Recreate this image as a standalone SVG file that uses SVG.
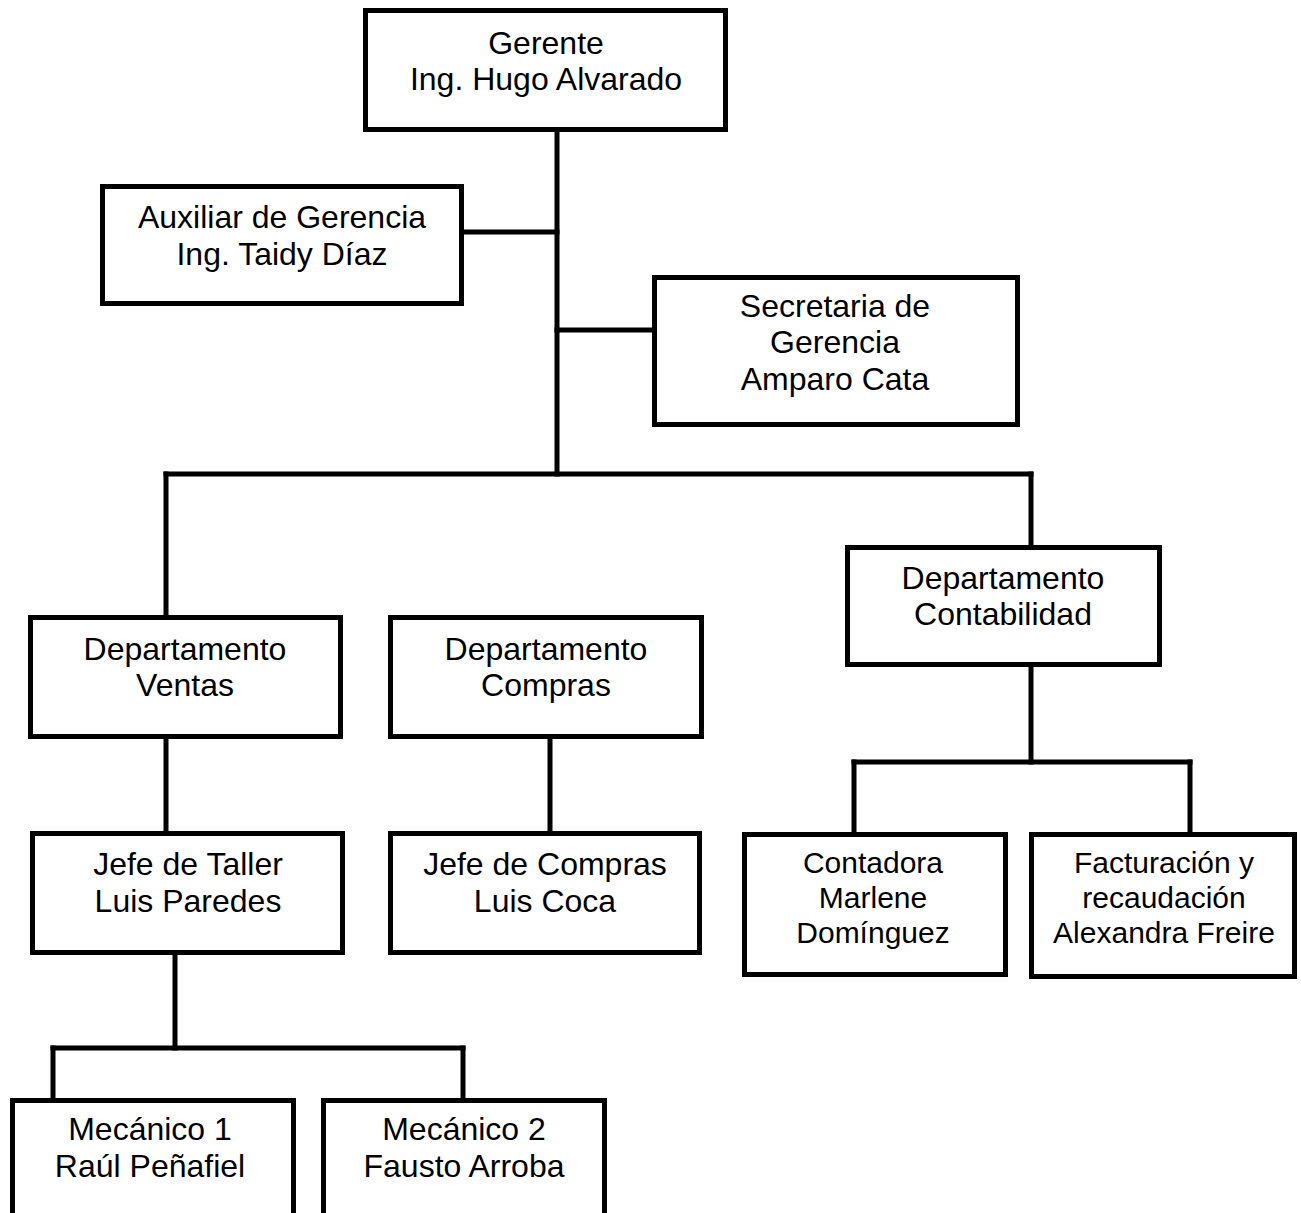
<svg xmlns="http://www.w3.org/2000/svg" width="1301" height="1213" viewBox="0 0 1301 1213">
  <style>
    .box { fill: #ffffff; stroke: #000000; stroke-width: 5; }
    .link { fill: none; stroke: #000000; stroke-width: 5; stroke-linecap: square; }
    .lbl { font-family: "Liberation Sans", Arial, sans-serif; font-size: 32px; fill: #000000; text-anchor: middle; }
    .sm { font-size: 30px; }
  </style>
  <rect width="1301" height="1213" fill="#ffffff"/>

  <!-- reporting lines -->
  <g id="connectors">
    <path class="link" d="M557,132 V474"/>
    <path class="link" d="M464,232 H557"/>
    <path class="link" d="M557,330 H652"/>
    <path class="link" d="M166,474 H1031"/>
    <path class="link" d="M166,474 V615"/>
    <path class="link" d="M1031,474 V545"/>
    <path class="link" d="M1031,667 V762"/>
    <path class="link" d="M854,762 H1190"/>
    <path class="link" d="M854,762 V832"/>
    <path class="link" d="M1190,762 V832"/>
    <path class="link" d="M166,739 V831"/>
    <path class="link" d="M550,739 V831"/>
    <path class="link" d="M175,955 V1048"/>
    <path class="link" d="M53,1048 H463"/>
    <path class="link" d="M53,1048 V1098"/>
    <path class="link" d="M463,1048 V1098"/>
  </g>

  <g id="gerente">
    <rect class="box" x="365.5" y="10.5" width="360" height="119"/>
    <text class="lbl" x="546" y="54">Gerente</text>
    <text class="lbl" x="546" y="90">Ing. Hugo Alvarado</text>
  </g>

  <g id="auxiliar">
    <rect class="box" x="102.5" y="186.5" width="359" height="117"/>
    <text class="lbl" x="282" y="228">Auxiliar de Gerencia</text>
    <text class="lbl" x="282" y="265">Ing. Taidy Díaz</text>
  </g>

  <g id="secretaria">
    <rect class="box" x="654.5" y="277.5" width="363" height="147"/>
    <text class="lbl" x="835" y="317">Secretaria de</text>
    <text class="lbl" x="835" y="353">Gerencia</text>
    <text class="lbl" x="835" y="390">Amparo Cata</text>
  </g>

  <g id="contabilidad">
    <rect class="box" x="847.5" y="547.5" width="312" height="117"/>
    <text class="lbl" x="1003" y="589">Departamento</text>
    <text class="lbl" x="1003" y="625">Contabilidad</text>
  </g>

  <g id="ventas">
    <rect class="box" x="30.5" y="617.5" width="310" height="119"/>
    <text class="lbl" x="185" y="660">Departamento</text>
    <text class="lbl" x="185" y="696">Ventas</text>
  </g>

  <g id="compras">
    <rect class="box" x="390.5" y="617.5" width="311" height="119"/>
    <text class="lbl" x="546" y="660">Departamento</text>
    <text class="lbl" x="546" y="696">Compras</text>
  </g>

  <g id="jefe-taller">
    <rect class="box" x="32.5" y="833.5" width="310" height="119"/>
    <text class="lbl" x="188" y="875">Jefe de Taller</text>
    <text class="lbl" x="188" y="912">Luis Paredes</text>
  </g>

  <g id="jefe-compras">
    <rect class="box" x="390.5" y="833.5" width="309" height="119"/>
    <text class="lbl" x="545" y="875">Jefe de Compras</text>
    <text class="lbl" x="545" y="912">Luis Coca</text>
  </g>

  <g id="contadora">
    <rect class="box" x="744.5" y="834.5" width="261" height="140"/>
    <text class="lbl sm" x="873" y="873">Contadora</text>
    <text class="lbl sm" x="873" y="908">Marlene</text>
    <text class="lbl sm" x="873" y="943">Domínguez</text>
  </g>

  <g id="facturacion">
    <rect class="box" x="1031.5" y="834.5" width="263" height="142"/>
    <text class="lbl sm" x="1164" y="873">Facturación y</text>
    <text class="lbl sm" x="1164" y="908">recaudación</text>
    <text class="lbl sm" x="1164" y="943">Alexandra Freire</text>
  </g>

  <g id="mecanico-1">
    <rect class="box" x="12.5" y="1100.5" width="281" height="130"/>
    <text class="lbl" x="150" y="1140">Mecánico 1</text>
    <text class="lbl" x="150" y="1177">Raúl Peñafiel</text>
  </g>

  <g id="mecanico-2">
    <rect class="box" x="323.5" y="1100.5" width="281" height="130"/>
    <text class="lbl" x="464" y="1140">Mecánico 2</text>
    <text class="lbl" x="464" y="1177">Fausto Arroba</text>
  </g>
</svg>
